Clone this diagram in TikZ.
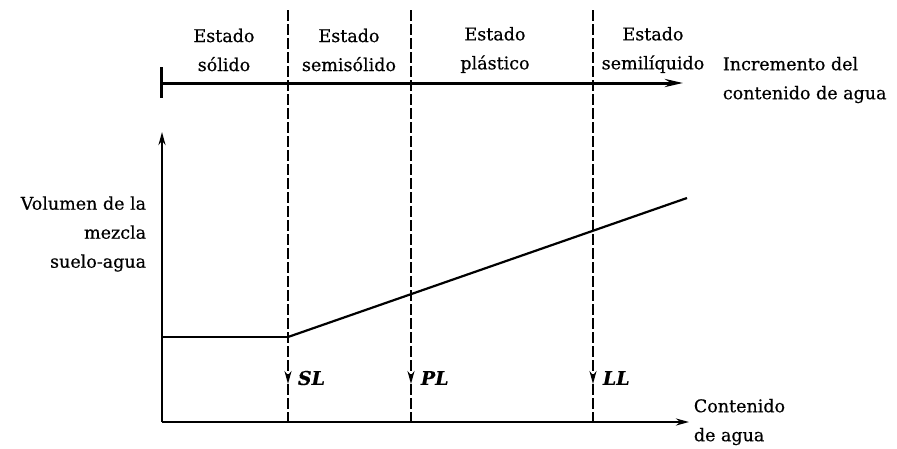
\documentclass[tikz,border=0pt]{standalone}
\usepackage{fontspec}
\setmainfont{DejaVu Serif}[FakeBold=0.5]
\usetikzlibrary{arrows.meta}

\begin{document}
\begin{tikzpicture}[x=1pt,y=-1pt,line width=1.8pt,
    every node/.style={inner sep=0pt,align=center,font=\fontsize{17.5}{29}\selectfont},
    >={Stealth[length=13pt,width=7pt]},
    limite/.style={dash pattern=on 11pt off 3pt,line width=1.8pt},
    lim/.style={anchor=west,font=\fontsize{19}{20}\selectfont\bfseries\itshape}]
  \useasboundingbox(0,0)rectangle(897,448);
  \coordinate(O)at(162,422);\coordinate(Y)at(162,132);\coordinate(X)at(689,422);
  \draw[->,line width=2.6pt](O)--(Y);
  \draw[->,line width=2.6pt](O)--(X);
  \coordinate(T0)at(161,83);\coordinate(T1)at(683,83);
  \coordinate(Ta)at(161,67);\coordinate(Tb)at(161,98);
  \draw[-{Stealth[length=18pt,width=8pt]},line width=3pt](T0)--(T1);
  \draw[line width=3pt](Ta)--(Tb);
  \foreach \n/\x in {SL/288,PL/411,LL/593}{
    \coordinate(\n top)at(\x,10);\coordinate(\n tip)at(\x,384);\coordinate(\n bot)at(\x,422);
    \draw[limite,->](\n top)--(\n tip);
    \draw[limite](\n tip)--(\n bot);
    \node[lim](\n lab)at(\x+9,378){\n};
  }
  \coordinate(A)at(162,337);\coordinate(B)at(288,337);\coordinate(C)at(687,198);
  \draw[line width=1.5pt](A)--(B);
  \draw[line width=2.2pt](B)--(C);
  \node(sol)at(224,50){Estado\\sólido};
  \node(semisol)at(349,50){Estado\\semisólido};
  \node(plas)at(495,50){Estado\\plástico};
  \node(semiliq)at(653,50){Estado\\semilíquido};
  \node[align=left,anchor=west](incr)at(722,80){Incremento del\\contenido de agua};
  \node[align=right,anchor=east](vol)at(147,234){Volumen de la\\mezcla\\suelo-agua};
  \node[align=left,anchor=west](cont)at(693,422){Contenido\\de agua};
\end{tikzpicture}
\end{document}
